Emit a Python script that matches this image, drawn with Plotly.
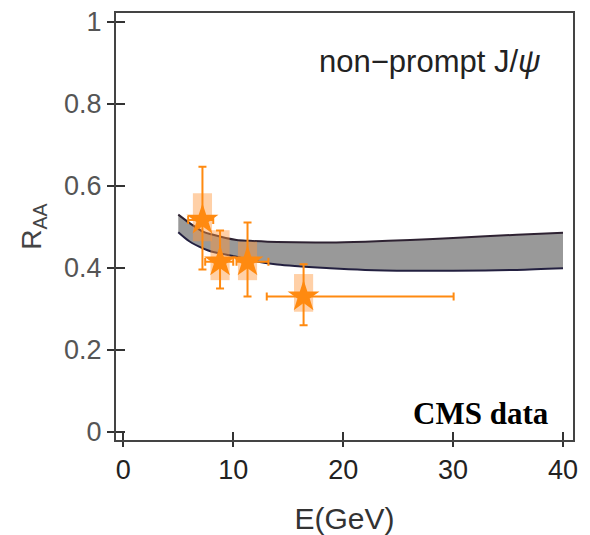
import plotly.graph_objects as go

# ---- data ----
band_E = [5.0, 6.0, 7.3, 8.0, 10.3, 11.5, 14.0, 18.8, 22.0, 26.1, 30.0, 35.8, 40.0]
band_hi = [0.530, 0.510, 0.488, 0.482, 0.468, 0.466, 0.463, 0.462, 0.464, 0.468, 0.473, 0.481, 0.486]
band_lo = [0.487, 0.465, 0.447, 0.440, 0.427, 0.419, 0.408, 0.399, 0.395, 0.393, 0.393, 0.395, 0.399]

pt_E = [7.2, 8.8, 11.3, 16.4]
pt_R = [0.517, 0.415, 0.415, 0.330]
pt_err_up = [0.130, 0.076, 0.096, 0.079]
pt_err_dn = [0.121, 0.065, 0.085, 0.070]
pt_xerr_lo = [1.30, 1.35, 1.00, 3.35]
pt_xerr_hi = [0.98, 1.20, 1.90, 13.65]
sys_lo = [0.465, 0.370, 0.370, 0.293]
sys_hi = [0.582, 0.492, 0.464, 0.385]

x_ticks = [0, 10, 20, 30, 40]
y_ticks = [0, 0.2, 0.4, 0.6, 0.8, 1]
y_tick_text = ["0", "0.2", "0.4", "0.6", "0.8", "1"]

ORANGE = "#FF8A10"
BOX = "rgba(255,150,60,0.45)"
FONT = "Liberation Sans, Arial, sans-serif"
XR = [-0.665, 40.91]
YR = [-0.020, 1.022]

fig = go.Figure()

# band
fig.add_trace(go.Scatter(x=band_E, y=band_lo, mode="lines",
                         line=dict(color="#232040", width=2, shape="spline", smoothing=0.8),
                         showlegend=False))
fig.add_trace(go.Scatter(x=band_E, y=band_hi, mode="lines", fill="tonexty",
                         fillcolor="#999999",
                         line=dict(color="#2e2232", width=2, shape="spline", smoothing=0.8),
                         showlegend=False))

# systematic boxes
half_w = 0.87
for e, lo, hi in zip(pt_E, sys_lo, sys_hi):
    fig.add_trace(go.Scatter(x=[e - half_w, e + half_w, e + half_w, e - half_w, e - half_w],
                             y=[lo, lo, hi, hi, lo], mode="lines", fill="toself",
                             fillcolor=BOX, line=dict(width=0), showlegend=False,
                             hoverinfo="skip"))

# data points
fig.add_trace(go.Scatter(
    x=pt_E, y=pt_R, mode="markers",
    marker=dict(symbol="star", size=24, color=ORANGE, line=dict(width=0)),
    error_y=dict(type="data", array=pt_err_up, arrayminus=pt_err_dn,
                 color=ORANGE, thickness=2, width=4),
    error_x=dict(type="data", array=pt_xerr_hi, arrayminus=pt_xerr_lo,
                 color=ORANGE, thickness=2, width=4),
    showlegend=False))

# dummy trace for overlay axes (inner half of crossing ticks)
fig.add_trace(go.Scatter(x=[0], y=[0], xaxis="x2", yaxis="y2", mode="markers",
                         marker=dict(opacity=0), showlegend=False, hoverinfo="skip"))

axis_common = dict(showgrid=False, zeroline=False, automargin=False)
fig.update_layout(
    width=590, height=535,
    margin=dict(l=116, r=17, t=13, b=95),
    paper_bgcolor="white", plot_bgcolor="white",
    font=dict(family=FONT),
    xaxis=dict(range=XR, tickvals=x_ticks, ticks="outside", ticklen=5, tickwidth=2,
               tickcolor="#333", showline=True, linecolor="#444", linewidth=2,
               mirror=True, tickfont=dict(size=27, color="#222"),
               title=dict(text="E(GeV)", font=dict(size=30, color="#333"), standoff=24),
               **axis_common),
    yaxis=dict(range=YR, tickvals=y_ticks, ticktext=y_tick_text, ticks="outside",
               ticklen=7, tickwidth=2, tickcolor="#333", showline=True,
               linecolor="#444", linewidth=2, mirror=True,
               tickfont=dict(size=27, color="#555"),
               title=dict(text="R<sub>AA</sub>", font=dict(size=28, color="#444"), standoff=14),
               **axis_common),
    xaxis2=dict(range=XR, tickvals=x_ticks, overlaying="x", anchor="y", side="bottom",
                ticks="inside", ticklen=8, tickwidth=2, tickcolor="#333",
                showticklabels=False, showline=False, **axis_common),
    yaxis2=dict(range=YR, tickvals=y_ticks, overlaying="y", anchor="x", side="left",
                ticks="inside", ticklen=9, tickwidth=2, tickcolor="#333",
                showticklabels=False, showline=False, **axis_common),
    annotations=[
        dict(text="non\u2212prompt J/<i>\u03c8</i>", xref="paper", yref="paper",
             x=0.935, y=0.886, xanchor="right", yanchor="middle", showarrow=False,
             font=dict(size=31, color="#222", family=FONT)),
        dict(text="<b>CMS data</b>", xref="paper", yref="paper",
             x=0.952, y=0.063, xanchor="right", yanchor="middle", showarrow=False,
             font=dict(size=31, color="black", family="Liberation Serif, Times New Roman, serif")),
    ],
)

fig.write_html("out.html")
